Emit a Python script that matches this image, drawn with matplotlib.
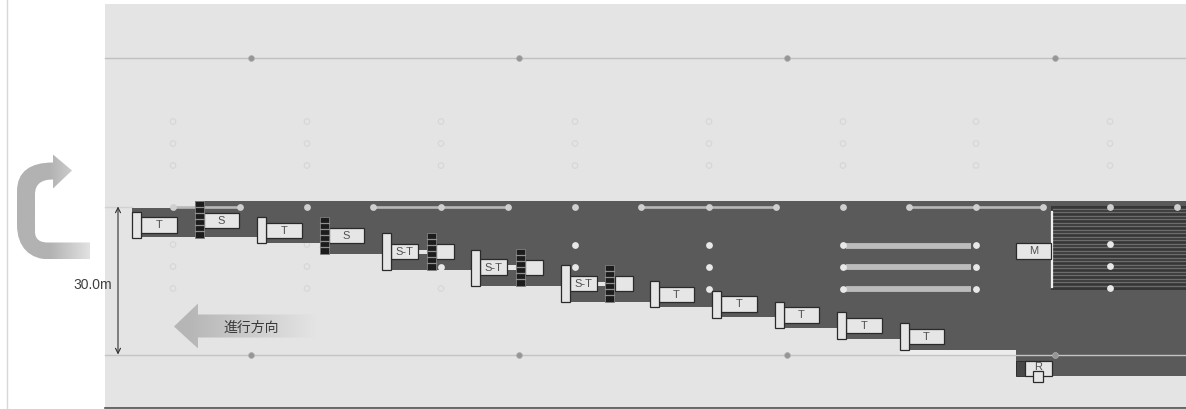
import numpy as np
import matplotlib.pyplot as plt
from matplotlib.path import Path
from matplotlib.patches import PathPatch, Rectangle, Polygon

plt.rcParams['font.family'] = ['Liberation Sans', 'Noto Sans CJK JP', 'DejaVu Sans']

# 路面の階段状の輪郭 (px)
road_outline = [(132, 208), (195, 208), (195, 201), (1186, 201), (1186, 376), (1016, 376),
                (1016, 350), (900, 350), (900, 339), (837, 339), (837, 328), (775, 328),
                (775, 317), (712, 317), (712, 307), (650, 307), (650, 302), (561, 302),
                (561, 286), (471, 286), (471, 270), (382, 270), (382, 254), (320, 254),
                (320, 243), (258, 243), (258, 237), (132, 237)]

# 機械: ポール
pole_x = [132, 257, 382, 471, 561, 650, 712, 775, 837, 900]
pole_top = [212, 217, 233, 250, 265, 281, 291.5, 302, 312.5, 323]
pole_bottom = [238, 243, 270, 286, 302, 307, 318, 328, 339, 350]

# 機械: ラベル付きの箱 (left, top, width, height, label)
box_left = [141, 266, 204, 329, 391, 480, 570, 659, 721, 784, 846, 909, 1016]
box_top = [217, 223, 213, 228, 244, 259.5, 276, 287, 296, 307, 318, 329, 243]
box_width = [36, 36, 35, 35, 27, 27, 27, 35, 36, 35, 36, 35, 35]
box_height = [16, 15, 15, 15.5, 15, 15.5, 15.5, 15, 16, 16, 15, 15, 16]
box_label = ['T', 'T', 'S', 'S', 'S-T', 'S-T', 'S-T', 'T', 'T', 'T', 'T', 'T', 'M']

# S-T の接続部と後ろの箱
rear_left = [436, 525, 615]
rear_top = [244, 260, 276]
joint_left = [418, 507, 597]
joint_top = [250, 265.5, 282]

# 黒いはしご
ladder_x = [195, 320, 427, 516, 605]
ladder_top = [201, 217, 233, 249, 265]
ladder_bottom = [238, 254, 270, 286, 302]

# 柱の位置
col_x = [173, 307, 441, 575, 709, 843, 976, 1110]
upper_rows = [122, 144, 166]
top_dot_x = [173, 240, 307, 373, 441, 508, 575, 641, 709, 776, 843, 909, 976, 1043, 1110, 1177]
white_dots = [(441, 267), (575, 245), (575, 267), (709, 245), (709, 267), (709, 289),
              (843, 245), (843, 267), (843, 289), (976, 245), (976, 267), (976, 289),
              (1110, 244), (1110, 266), (1110, 288)]
faint_dots = [(173, 245), (173, 267), (173, 289), (307, 245), (307, 267), (307, 289), (441, 289)]
line_dot_x = [251, 519, 787, 1055]
wire_spans = [(173, 240), (373, 508), (641, 776), (909, 1043)]
rail_rows = [246, 267, 289]
grate_lines = [209, 212, 216, 219, 223, 226, 230, 233, 237, 240, 244, 247, 251, 254,
               258, 261, 265, 268, 272, 275, 279, 282, 286]

BG = '#e4e4e4'
ROAD = '#5a5a5a'
BOX = '#e6e6e6'
EDGE = '#2a2a2a'

fig = plt.figure(figsize=(11.86, 4.10), dpi=100)
ax = fig.add_axes([0, 0, 1, 1])
ax.set_xlim(0, 1186)
ax.set_ylim(409.5, -0.5)
ax.axis('off')


def rect(x0, y0, w, h, fc=BOX, ec=EDGE, lw=0.9, z=5):
    ax.add_patch(Rectangle((x0, y0), w, h, fc=fc, ec=ec, lw=lw, zorder=z))


def gradient_fill(path, x0, x1, y0, y1, c_start, c_end, flat=0.0, z=4):
    # 横方向のグラデーションをパスで切り抜く (flat までは単色)
    g = np.clip((np.linspace(0, 1, 256) - flat) / (1 - flat), 0, 1)
    rgb = np.zeros((1, 256, 3))
    for i in range(3):
        rgb[0, :, i] = c_start + (c_end - c_start) * g
    im = ax.imshow(rgb / 255, extent=(x0, x1, y1, y0), aspect='auto', zorder=z, interpolation='bilinear')
    patch = PathPatch(path, fc='none', ec='none', transform=ax.transData)
    ax.add_patch(patch)
    im.set_clip_path(patch)


# 背景
ax.add_patch(Rectangle((105, 4), 1081, 404, fc=BG, ec='none', zorder=0))
ax.plot([7, 7], [0, 410], color='#d8d8d8', lw=1, zorder=1)
ax.plot([105, 1186], [408, 408], color='#505050', lw=1.2, zorder=1)
ax.plot([105, 1186], [58, 58], color='#c0c0c0', lw=1, zorder=1)
ax.plot([105, 132], [207, 207], color='#d2d2d2', lw=1, zorder=1)

# 路面
ax.add_patch(Polygon(road_outline, closed=True, fc=ROAD, ec='none', zorder=2))
ax.add_patch(Rectangle((900, 350), 116, 5, fc='#ececec', ec='none', zorder=2))
ax.plot([105, 1186], [355, 355], color='#c4c4c4', lw=1, zorder=3)

# 上下の線上の点
ax.scatter(line_dot_x, [58] * 4, s=18, c='#969696', edgecolors='#b0b0b0', linewidths=0.5, zorder=4)
ax.scatter(line_dot_x, [355] * 4, s=18, c='#969696', edgecolors='#b0b0b0', linewidths=0.5, zorder=4)

# 薄い丸
for cx in col_x:
    ax.scatter([cx] * 3, upper_rows, s=16, facecolors='none', edgecolors='#d6d6d6', linewidths=0.8, zorder=1)
fx, fy = zip(*faint_dots)
ax.scatter(fx, fy, s=16, facecolors='none', edgecolors='#d6d6d6', linewidths=0.8, zorder=1)

# グレーチング
ax.add_patch(Rectangle((1051, 206), 135, 84, fc='#363636', ec='none', zorder=3))
for gy in grate_lines:
    ax.plot([1053, 1186], [gy, gy], color='#6c6c6c', lw=1.0, zorder=3)
ax.plot([1051.5, 1051.5], [212, 287], color='#f0f0f0', lw=1.6, zorder=5)

# ワイヤーと白い点
for x0, x1 in wire_spans:
    ax.plot([x0, x1], [207, 207], color='#b8b8b8', lw=1.9, zorder=4)
for ry in rail_rows:
    ax.plot([846, 971], [ry, ry], color='#bcbcbc', lw=4.2, solid_capstyle='butt', zorder=4)
ax.scatter(top_dot_x, [207] * len(top_dot_x), s=24, c='#cfcfcf', linewidths=0, zorder=4)
wx, wy = zip(*white_dots)
ax.scatter(wx, wy, s=24, c='#e8e8e8', linewidths=0, zorder=4)

# はしご
for lx, t, b in zip(ladder_x, ladder_top, ladder_bottom):
    rect(lx, t, 9, b - t, fc='#1c1c1c', ec='#808080', lw=0.6, z=6)
    for k in range(1, 6):
        yy = t + (b - t) * k / 6
        ax.plot([lx, lx + 9], [yy, yy], color='#909090', lw=0.9, zorder=7)

# S-T の接続部と後ろの箱
for x0, t in zip(joint_left, joint_top):
    rect(x0, t, 10, 4.5, ec='none', z=5)
for x0, t in zip(rear_left, rear_top):
    rect(x0, t, 17.5, 15.5)

# 箱とラベル
for x0, t, w, h, s in zip(box_left, box_top, box_width, box_height, box_label):
    rect(x0, t, w, h)
    ax.text(x0 + (13 if s == 'S-T' else w / 2), t + h / 2, s, ha='center', va='center',
            fontsize=8, color='#505050', zorder=8)

# ポール
for x0, t, b in zip(pole_x, pole_top, pole_bottom):
    rect(x0, t, 9, b - t, z=6)

# R の機械
ax.add_patch(Rectangle((1016, 361), 9, 15, fc='#484848', ec=EDGE, lw=0.6, zorder=5))
rect(1025, 361, 27, 15)
rect(1033, 371, 10, 11, z=7)
ax.text(1038, 366.5, 'R', ha='center', va='center', fontsize=8, color='#505050', zorder=8)

# 30.0m の寸法線
ax.annotate('', xy=(118, 207), xytext=(118, 355), zorder=6,
            arrowprops=dict(arrowstyle='<->', color='#303030', lw=0.8, mutation_scale=9, shrinkA=0, shrinkB=0))
ax.text(73, 285, '30.0m', ha='left', va='center', fontsize=10, color='#404040', zorder=6)

# 進行方向の矢印
dir_path = Path([(174, 327), (198, 304), (198, 315), (316, 315), (316, 338), (198, 338), (198, 349), (174, 327)])
gradient_fill(dir_path, 174, 316, 304, 349, 182, 228, flat=0.1)
ax.text(251, 327, '進行方向', ha='center', va='center', fontsize=10, color='#3a3a3a', zorder=8,
        family=['Noto Sans CJK JP', 'DejaVu Sans'])

# U ターン矢印
verts = [(90, 243), (48, 243), (40, 243), (35, 240), (35, 232), (35, 195), (35, 184), (42, 180),
         (53, 180), (53, 189), (72, 171), (53, 155), (53, 163), (30, 163), (17, 172), (17, 192),
         (17, 225), (17, 248), (30, 260), (50, 260), (90, 260), (90, 243)]
codes = [Path.MOVETO, Path.LINETO, Path.CURVE4, Path.CURVE4, Path.CURVE4, Path.LINETO, Path.CURVE4,
         Path.CURVE4, Path.CURVE4, Path.LINETO, Path.LINETO, Path.LINETO, Path.LINETO, Path.CURVE4,
         Path.CURVE4, Path.CURVE4, Path.LINETO, Path.CURVE4, Path.CURVE4, Path.CURVE4, Path.LINETO,
         Path.CLOSEPOLY]
gradient_fill(Path(verts, codes), 17, 90, 155, 260, 178, 226, flat=0.45)

ax.set_xlim(0, 1186)
ax.set_ylim(409.5, -0.5)
fig.savefig('out.png', dpi=100)
